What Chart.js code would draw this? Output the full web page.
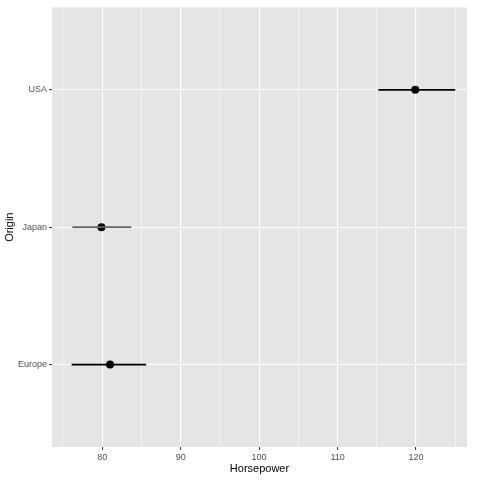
<!DOCTYPE html>
<html>
<head>
<meta charset="utf-8">
<script src="https://cdn.jsdelivr.net/npm/chart.js@4"></script>
<style>
  html, body { margin: 0; padding: 0; background: #fff; }
  #wrap { width: 480px; height: 480px; }
</style>
</head>
<body>
<div id="wrap"><canvas id="chart" width="480" height="480"></canvas></div>
<script>
// data
const origins = ['Europe', 'Japan', 'USA'];
const meanHp = [81.0, 79.9, 119.9];
const lowHp = [76.1, 76.2, 115.2];
const highHp = [85.6, 83.7, 125.0];
const barColors = ['#000000', '#666666', '#000000'];
const xMajor = [80, 90, 100, 110, 120];
const xMinor = [75, 85, 95, 105, 115, 125];

const panelBg = {
  id: 'panelBg',
  beforeDraw(chart) {
    const a = chart.chartArea;
    const ctx = chart.ctx;
    ctx.save();
    ctx.fillStyle = '#E5E5E5';
    ctx.fillRect(a.left, a.top, a.right - a.left, a.bottom - a.top);
    ctx.restore();
  }
};

const datasets = origins.map((o, i) => ({
  type: 'line',
  data: [{ x: lowHp[i], y: i + 1 }, { x: highHp[i], y: i + 1 }],
  borderColor: barColors[i],
  borderWidth: 1.8,
  pointRadius: 0
}));
datasets.push({
  type: 'scatter',
  data: origins.map((o, i) => ({ x: meanHp[i], y: i + 1 })),
  backgroundColor: '#000',
  borderColor: '#000',
  pointRadius: 4,
  borderWidth: 0
});

new Chart(document.getElementById('chart'), {
  type: 'scatter',
  data: { datasets },
  plugins: [panelBg],
  options: {
    responsive: false,
    animation: false,
    layout: { padding: { top: 5, right: 13, left: 0, bottom: 0 } },
    plugins: { legend: { display: false }, tooltip: { enabled: false } },
    scales: {
      x: {
        type: 'linear',
        min: 73.6,
        max: 126.5,
        afterBuildTicks(s) {
          s.ticks = xMajor.concat(xMinor).sort((a, b) => a - b).map(v => ({ value: v }));
        },
        afterFit(s) { s.height = 33; },
        border: { display: false },
        grid: {
          color: '#FFFFFF',
          lineWidth: c => xMajor.includes(c.tick.value) ? 1.1 : 0.5,
          tickColor: c => xMajor.includes(c.tick.value) ? '#333333' : 'rgba(0,0,0,0)',
          tickLength: 3,
          tickWidth: 1
        },
        ticks: {
          autoSkip: false,
          maxRotation: 0,
          padding: 2,
          color: '#4D4D4D',
          font: { family: 'Liberation Sans', size: 9 },
          callback: v => xMajor.includes(v) ? String(v) : ''
        },
        title: {
          display: true,
          text: 'Horsepower',
          color: '#000',
          font: { family: 'Liberation Sans', size: 11 },
          padding: { top: 0, bottom: 4 }
        }
      },
      y: {
        type: 'linear',
        min: 0.4,
        max: 3.6,
        afterBuildTicks(s) {
          s.ticks = origins.map((o, i) => ({ value: i + 1 }));
        },
        afterFit(s) { s.width = 52; },
        border: { display: false },
        grid: {
          color: '#FFFFFF',
          lineWidth: 1.1,
          tickColor: '#333333',
          tickLength: 3,
          tickWidth: 1
        },
        ticks: {
          autoSkip: false,
          padding: 2,
          color: '#4D4D4D',
          font: { family: 'Liberation Sans', size: 9 },
          callback: v => origins[v - 1] || ''
        },
        title: {
          display: true,
          text: 'Origin',
          color: '#000',
          font: { family: 'Liberation Sans', size: 11 },
          padding: { top: 3, bottom: 0 }
        }
      }
    }
  }
});
</script>
</body>
</html>
